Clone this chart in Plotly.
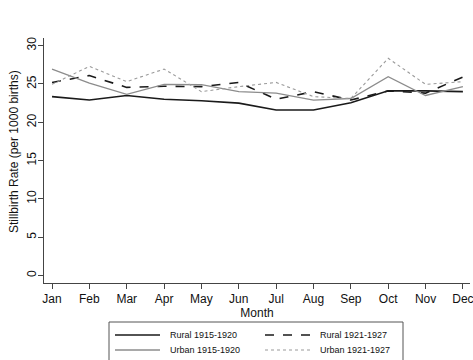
import plotly.graph_objects as go

months = ["Jan", "Feb", "Mar", "Apr", "May", "Jun", "Jul", "Aug", "Sep", "Oct", "Nov", "Dec"]
month_num = list(range(1, 13))

rural_1915_1920 = [23.35, 22.9, 23.5, 23.0, 22.8, 22.5, 21.6, 21.6, 22.55, 24.1, 24.1, 24.0]
rural_1921_1927 = [25.2, 26.1, 24.55, 24.7, 24.65, 25.2, 23.0, 24.0, 22.9, 24.1, 23.8, 25.9]
urban_1915_1920 = [26.95, 25.1, 23.65, 24.95, 24.9, 24.0, 23.8, 22.9, 23.1, 25.95, 23.5, 24.65]
urban_1921_1927 = [24.95, 27.3, 25.3, 26.95, 24.0, 24.65, 25.2, 23.35, 23.1, 28.35, 24.95, 25.3]

y_ticks = [0, 5, 10, 15, 20, 25, 30]

series = [
    ("Rural 1915-1920", rural_1915_1920, dict(color="#1a1a1a", width=1.6, dash="solid")),
    ("Rural 1921-1927", rural_1921_1927, dict(color="#1a1a1a", width=1.6, dash="dash")),
    ("Urban 1915-1920", urban_1915_1920, dict(color="#8c8c8c", width=1.3, dash="solid")),
    ("Urban 1921-1927", urban_1921_1927, dict(color="#9a9a9a", width=1.1, dash="dot")),
]

W, H = 473, 360
ML, MR, MT, MB = 44, 3, 38, 77
PW, PH = W - ML - MR, H - MT - MB


def px_x(px):
    return (px - ML) / PW


def px_y(py):
    return (H - MB - py) / PH


fig = go.Figure()
for name, vals, line in series:
    fig.add_trace(go.Scatter(x=month_num, y=vals, mode="lines", name=name, line=line))

font = dict(family="Liberation Sans, Arial, sans-serif", color="#111")

# Boxed two-column key below the axis
shapes = [dict(type="rect", xref="paper", yref="paper",
               x0=px_x(109), x1=px_x(403), y0=px_y(370), y1=px_y(322),
               line=dict(color="#555", width=1), fillcolor="white", layer="above")]
annotations = []
cols = [(115, 160, 168), (265, 310, 318)]
rows = [335, 350]
for i, (name, _, line) in enumerate(series):
    r, c = divmod(i, 2)
    lx0, lx1, tx = cols[c]
    yy = px_y(rows[r])
    shapes.append(dict(type="line", xref="paper", yref="paper",
                       x0=px_x(lx0), x1=px_x(lx1), y0=yy, y1=yy,
                       line=dict(color=line["color"], width=line["width"], dash=line["dash"])))
    annotations.append(dict(text=name, xref="paper", yref="paper", x=px_x(tx), y=yy,
                            xanchor="left", yanchor="middle", showarrow=False,
                            font=dict(size=9, **font)))

# Vertical y-axis title
annotations.append(dict(text="Stillbirth Rate (per 1000 births)", xref="paper", yref="paper",
                        x=px_x(14), y=px_y(152), xanchor="center", yanchor="middle",
                        textangle=-90, showarrow=False, font=dict(size=12, **font)))

fig.update_layout(
    width=W, height=H,
    margin=dict(l=ML, r=MR, t=MT, b=MB),
    paper_bgcolor="white", plot_bgcolor="white",
    font=dict(size=12, **font),
    showlegend=False,
    shapes=shapes,
    annotations=annotations,
    xaxis=dict(
        range=[0.785, 12.19],
        tickmode="array", tickvals=month_num, ticktext=months,
        showgrid=False, zeroline=False,
        showline=True, linecolor="#444", linewidth=1,
        ticks="outside", ticklen=5, tickcolor="#444",
        ticklabeloverflow="allow",
        tickfont=dict(size=12, **font),
        title=dict(text="Month", standoff=0, font=dict(size=12, **font)),
        automargin=False,
    ),
    yaxis=dict(
        range=[-0.98, 31.0],
        tickmode="array", tickvals=y_ticks,
        tickangle=-90,
        showgrid=False, zeroline=False,
        showline=True, linecolor="#444", linewidth=1,
        ticks="outside", ticklen=5, tickcolor="#444",
        ticklabelstandoff=-3,
        tickfont=dict(size=12, **font),
        automargin=False,
    ),
)

fig.write_html("out.html")
